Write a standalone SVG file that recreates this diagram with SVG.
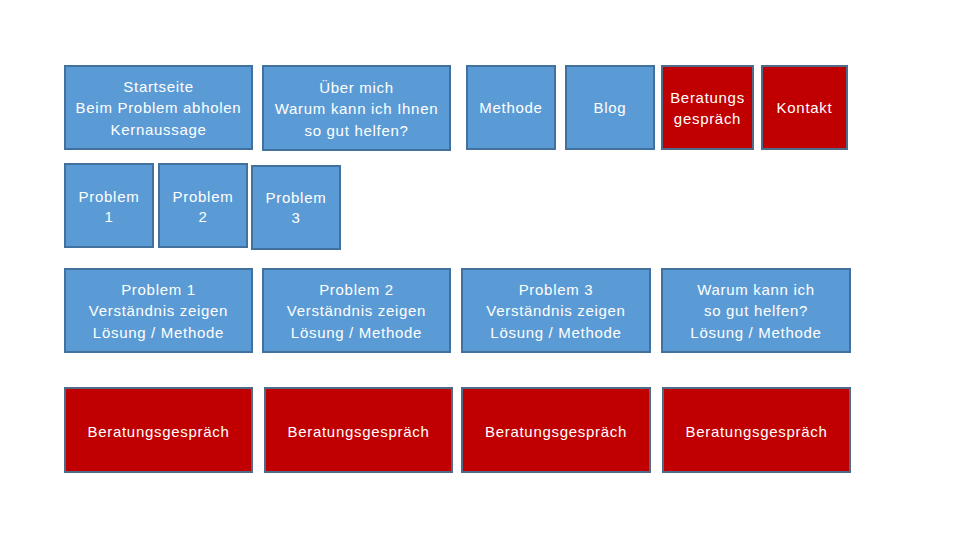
<svg xmlns="http://www.w3.org/2000/svg" width="960" height="540" viewBox="0 0 960 540">
<style>
.b{fill:#5B9BD5;stroke:#41719C;stroke-width:2}
.r{fill:#C00000;stroke:#4F6B8A;stroke-width:2}
text{font-family:"Liberation Sans",Arial,sans-serif;font-size:15px;letter-spacing:0.7px;fill:#fff;text-anchor:middle}
</style>
<rect width="960" height="540" fill="#fff"/>
<g id="startseite"><rect class="b" x="65" y="66" width="187" height="83"/><text x="158.5" y="92">Startseite</text><text x="158.5" y="113">Beim Problem abholen</text><text x="158.5" y="135">Kernaussage</text></g>
<g id="ueber"><rect class="b" x="263" y="66" width="187" height="84"/><text x="356.5" y="93">Über mich</text><text x="356.5" y="114">Warum kann ich Ihnen</text><text x="356.5" y="136">so gut helfen?</text></g>
<g id="methode"><rect class="b" x="467" y="66" width="88" height="83"/><text x="511" y="113">Methode</text></g>
<g id="blog"><rect class="b" x="566" y="66" width="88" height="83"/><text x="610" y="113">Blog</text></g>
<g id="beratung-top"><rect class="r" x="662" y="66" width="91" height="83"/><text x="707.5" y="103">Beratungs</text><text x="707.5" y="124">gespräch</text></g>
<g id="kontakt"><rect class="r" x="762" y="66" width="85" height="83"/><text x="804.5" y="113">Kontakt</text></g>
<g id="p1"><rect class="b" x="65" y="164" width="88" height="83"/><text x="109" y="202">Problem</text><text x="109" y="222">1</text></g>
<g id="p2"><rect class="b" x="159" y="164" width="88" height="83"/><text x="203" y="202">Problem</text><text x="203" y="222">2</text></g>
<g id="p3"><rect class="b" x="252" y="166" width="88" height="83"/><text x="296" y="203">Problem</text><text x="296" y="223">3</text></g>
<g id="d1"><rect class="b" x="65" y="269" width="187" height="83"/><text x="158.5" y="295">Problem 1</text><text x="158.5" y="316">Verständnis zeigen</text><text x="158.5" y="338">Lösung / Methode</text></g>
<g id="d2"><rect class="b" x="263" y="269" width="187" height="83"/><text x="356.5" y="295">Problem 2</text><text x="356.5" y="316">Verständnis zeigen</text><text x="356.5" y="338">Lösung / Methode</text></g>
<g id="d3"><rect class="b" x="462" y="269" width="188" height="83"/><text x="556" y="295">Problem 3</text><text x="556" y="316">Verständnis zeigen</text><text x="556" y="338">Lösung / Methode</text></g>
<g id="d4"><rect class="b" x="662" y="269" width="188" height="83"/><text x="756" y="295">Warum kann ich</text><text x="756" y="316">so gut helfen?</text><text x="756" y="338">Lösung / Methode</text></g>
<g id="b1"><rect class="r" x="65" y="388" width="187" height="84"/><text x="158.5" y="437">Beratungsgespräch</text></g>
<g id="b2"><rect class="r" x="265" y="388" width="187" height="84"/><text x="358.5" y="437">Beratungsgespräch</text></g>
<g id="b3"><rect class="r" x="462" y="388" width="188" height="84"/><text x="556" y="437">Beratungsgespräch</text></g>
<g id="b4"><rect class="r" x="663" y="388" width="187" height="84"/><text x="756.5" y="437">Beratungsgespräch</text></g>
<g id="connectors"/>
</svg>
